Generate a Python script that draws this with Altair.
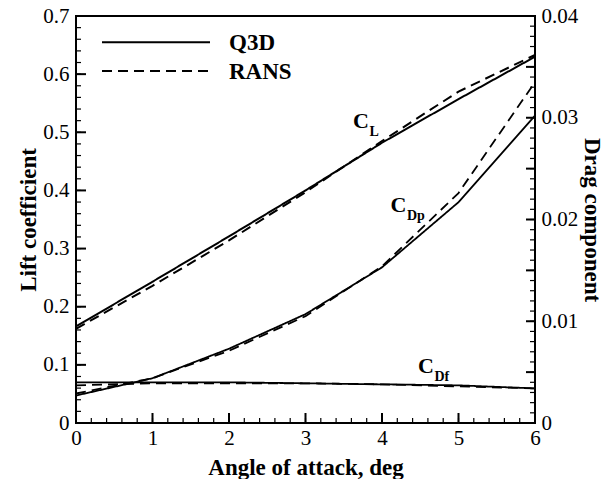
import altair as alt
import pandas as pd

# ---- data ----
alpha = [0, 1, 2, 3, 4, 5, 6]
cl_q3d = [0.166, 0.243, 0.321, 0.400, 0.482, 0.557, 0.630]
cl_rans = [0.162, 0.236, 0.314, 0.397, 0.485, 0.570, 0.633]
cdp_q3d = [0.0027, 0.0044, 0.0073, 0.0107, 0.0153, 0.0217, 0.0302]
cdp_rans = [0.0029, 0.0044, 0.0071, 0.0105, 0.0154, 0.0226, 0.0335]
cdf_q3d = [0.0040, 0.0040, 0.0040, 0.0039, 0.0038, 0.0037, 0.0034]
cdf_rans = [0.0037, 0.0039, 0.0039, 0.0039, 0.0038, 0.0036, 0.0034]

series_names = ["Q3D", "RANS"]

x_labels = [0, 1, 2, 3, 4, 5, 6]
x_minor = [i / 5 for i in range(0, 31)]
lift_labels = [0, 0.1, 0.2, 0.3, 0.4, 0.5, 0.6, 0.7]
lift_minor = [i / 50 for i in range(0, 36)]
drag_labels = [0, 0.01, 0.02, 0.03, 0.04]
drag_major = [i / 200 for i in range(0, 9)]
drag_minor = [i / 1000 for i in range(0, 41)]

# annotation anchors (alpha, lift-axis units)
ann_x = [3.62, 4.11, 4.47]
ann_y = [0.507, 0.363, 0.0855]
ann_main = ["C", "C", "C"]
ann_sub = ["L", "Dp", "Df"]

W, H = 459, 407
FONT = "Liberation Serif"

x_scale = alt.Scale(domain=[0, 6], nice=False, zero=False)
lift_scale = alt.Scale(domain=[0, 0.7], nice=False, zero=False)
drag_scale = alt.Scale(domain=[0, 0.04], nice=False, zero=False)
dash_scale = alt.Scale(domain=series_names, range=[[1, 0], [10, 6]])

x_axis = alt.Axis(title="Angle of attack, deg", values=x_labels, ticks=False, tickSize=0,
                  domain=False, grid=False, labelFlush=False, labelPadding=4, titlePadding=8)


def xenc(field):
    return alt.X(field, type="quantitative", scale=x_scale, axis=x_axis, title="Angle of attack, deg")


n = len(alpha)
lift_df = pd.DataFrame({
    "alpha": alpha * 2,
    "value": cl_q3d + cl_rans,
    "series": ["Q3D"] * n + ["RANS"] * n,
})
drag_df = pd.DataFrame({
    "alpha": alpha * 4,
    "value": cdp_q3d + cdp_rans + cdf_q3d + cdf_rans,
    "series": (["Q3D"] * n + ["RANS"] * n) * 2,
    "coef": ["CDp"] * (2 * n) + ["CDf"] * (2 * n),
})

cl_layer = alt.Chart(lift_df).mark_line(color="black", strokeWidth=2).encode(
    x=xenc("alpha"),
    y=alt.Y("value:Q", scale=lift_scale,
            axis=alt.Axis(title="Lift coefficient", orient="left", values=lift_labels, format="~g",
                          ticks=False, tickSize=0, domain=False, grid=False, labelPadding=7,
                          titlePadding=2)),
    strokeDash=alt.StrokeDash("series:N", scale=dash_scale, legend=None),
)

drag_layer = alt.Chart(drag_df).mark_line(color="black", strokeWidth=1.8).encode(
    x=xenc("alpha"),
    y=alt.Y("value:Q", scale=drag_scale,
            axis=alt.Axis(title="Drag component", orient="right", values=drag_labels, format="~g",
                          ticks=False, tickSize=0, domain=False, grid=False, labelPadding=6,
                          titlePadding=2)),
    strokeDash=alt.StrokeDash("series:N", scale=dash_scale, legend=None),
    detail="coef:N",
)


def yticks(vals, scale, x0, x1, width):
    return alt.Chart(pd.DataFrame({"v": vals})).mark_rule(color="black", strokeWidth=width).encode(
        y=alt.Y("v:Q", scale=scale, axis=None), x=alt.value(x0), x2=alt.value(x1))


def xticks(vals, length, width):
    return alt.Chart(pd.DataFrame({"alpha": vals})).mark_rule(color="black", strokeWidth=width).encode(
        x=xenc("alpha"), y=alt.value(H), y2=alt.value(H - length))


ticks = [
    yticks(lift_minor, lift_scale, 0, 5, 1.2),
    yticks(lift_labels, lift_scale, 0, 10, 2),
    yticks(drag_minor, drag_scale, W, W - 5, 1.2),
    yticks(drag_major, drag_scale, W, W - 9, 2),
    xticks(x_minor, 5, 1.2),
    xticks(x_labels, 10, 2),
]

ann_df = pd.DataFrame({"alpha": ann_x, "value": ann_y, "main": ann_main, "sub": ann_sub})
ann_main_layer = alt.Chart(ann_df).mark_text(
    align="left", baseline="alphabetic", font=FONT, fontWeight="bold", fontSize=22, color="black"
).encode(
    x=xenc("alpha"),
    y=alt.Y("value:Q", scale=lift_scale, axis=None),
    text="main:N",
)
ann_sub_layer = alt.Chart(ann_df).mark_text(
    align="left", baseline="alphabetic", font=FONT, fontWeight="bold", fontSize=14, color="black",
    dx=16.5, dy=8
).encode(
    x=xenc("alpha"),
    y=alt.Y("value:Q", scale=lift_scale, axis=None),
    text="sub:N",
)

leg_df = pd.DataFrame({"series": series_names})
leg_y = alt.Y("series:N", scale=alt.Scale(type="point", domain=series_names, range=[26.3, 55], padding=0),
              axis=None)
leg_line = alt.Chart(leg_df).mark_rule(color="black", strokeWidth=2).encode(
    y=leg_y, x=alt.value(26), x2=alt.value(134),
    strokeDash=alt.StrokeDash("series:N", scale=dash_scale, legend=None),
)
leg_text = alt.Chart(leg_df).mark_text(
    align="left", baseline="alphabetic", font=FONT, fontWeight="bold", fontSize=23, color="black", dy=8
).encode(y=leg_y, x=alt.value(153), text="series:N")

chart = alt.layer(
    cl_layer, drag_layer, *ticks, ann_main_layer, ann_sub_layer, leg_line, leg_text
).resolve_scale(y="independent").properties(
    width=W, height=H,
    padding={"left": 76, "top": 16, "right": 81, "bottom": 56},
    autosize=alt.AutoSizeParams(type="none"),
    background="white",
).configure_view(
    stroke="black", strokeWidth=2
).configure_axis(
    labelFont=FONT, labelFontSize=21, labelColor="black",
    titleFont=FONT, titleFontSize=23, titleFontWeight="bold", titleColor="black",
)

chart.save("out.html", embed_options={"renderer": "svg", "actions": False})
